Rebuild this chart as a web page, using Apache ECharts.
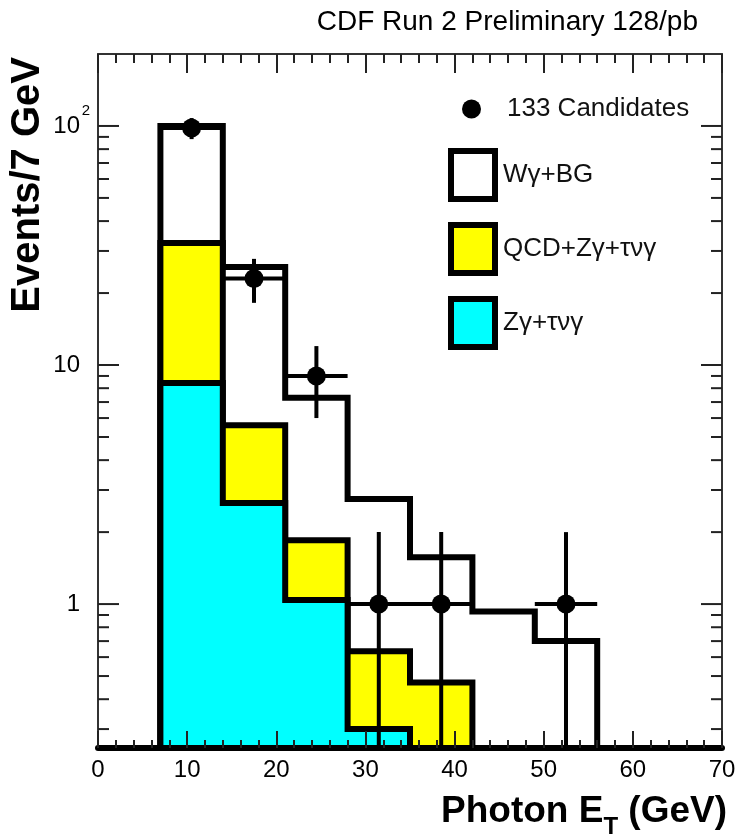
<!DOCTYPE html>
<html><head><meta charset="utf-8">
<script src="https://cdn.jsdelivr.net/npm/echarts@6/dist/echarts.min.js"></script>
<style>html,body{margin:0;padding:0;background:#fff}#c{width:736px;height:838px}</style>
</head><body><div id="c"></div>
<script>
// ---- data ----
const binEdges = [7, 14, 21, 28, 35, 42, 49, 56];
const totalBG = [100, 25.7, 7.3, 2.75, 1.57, 0.93, 0.70];      // W gamma + BG
const qcdZg = [32.4, 5.6, 1.85, 0.635, 0.47, 0, 0];            // QCD + Z gamma + tau nu gamma
const zgTau = [8.4, 2.65, 1.04, 0.30, 0, 0, 0];                // Z gamma + tau nu gamma
const dataX = [10.5, 17.5, 24.5, 31.5, 38.5, 52.5];
const dataY = [98, 23, 9, 1, 1, 1];
const dataYErr = [9.9, 4.8, 3.0, 1.0, 1.0, 1.0];
const dataXErr = [3.5, 3.5, 3.5, 3.5, 3.5, 3.5];
const yMajorTicks = [1, 10, 100];
const yMinorTicks = [0.3, 0.4, 0.5, 0.6, 0.7, 0.8, 0.9, 2, 3, 4, 5, 6, 7, 8, 9, 20, 30, 40, 50, 60, 70, 80, 90];
const yMin = 0.25, yMax = 200;
const xMin = 0, xMax = 70;

const FONT = '"Liberation Sans", Arial, Helvetica, sans-serif';

function stepData(vals) {
  const last = binEdges.length - 1;
  const pts = [[binEdges[0], yMin]];
  for (let i = 0; i < vals.length; i++) pts.push([binEdges[i], Math.max(vals[i], yMin)]);
  pts.push([binEdges[last], Math.max(vals[vals.length - 1], yMin)]);
  pts.push([binEdges[last], yMin]);
  return pts;
}

function histSeries(name, vals, fill, z) {
  return {
    type: 'line', name: name, step: 'end', data: stepData(vals),
    symbol: 'none', showSymbol: false, clip: false, z: z,
    color: fill,
    lineStyle: { color: '#000', width: 6, join: 'miter' },
    areaStyle: { color: fill, opacity: 1, origin: 'start' },
    emphasis: { disabled: true }, silent: true
  };
}

const chart = echarts.init(document.getElementById('c'), null, { renderer: 'canvas' });

const option = {
  animation: false,
  backgroundColor: '#fff',
  title: {
    text: 'CDF Run 2 Preliminary 128/pb', right: 38, top: 8, padding: 0,
    textStyle: { fontSize: 28, fontWeight: 'normal', fontFamily: FONT, color: '#000' }
  },
  grid: { left: 98, right: 14, top: 54, bottom: 90, containLabel: false, outerBoundsMode: 'none' },
  legend: [
    {
      data: [{ name: '133 Candidates', icon: 'circle', itemStyle: { color: '#000', borderWidth: 0, opacity: 1 } }],
      left: 462, top: 96, padding: 0, itemWidth: 19, itemHeight: 19, selectedMode: false,
      textStyle: { fontSize: 26, fontFamily: FONT, color: '#111', padding: [0, 0, 0, 21] }
    },
    {
      data: [
        { name: 'Wγ+BG', icon: 'rect', itemStyle: { color: '#ffffff', borderColor: '#000', borderWidth: 6, opacity: 1 } },
        { name: 'QCD+Zγ+τνγ', icon: 'rect', itemStyle: { color: '#ffff00', borderColor: '#000', borderWidth: 6, opacity: 1 } },
        { name: 'Zγ+τνγ', icon: 'rect', itemStyle: { color: '#00ffff', borderColor: '#000', borderWidth: 6, opacity: 1 } }
      ],
      orient: 'vertical', left: 448, top: 148, padding: 0,
      itemWidth: 44, itemHeight: 48, itemGap: 20, selectedMode: false,
      textStyle: { fontSize: 26, fontFamily: FONT, color: '#111', padding: [0, 0, 0, 3] }
    }
  ],
  xAxis: [
    {
      type: 'value', min: xMin, max: xMax, interval: 10, position: 'bottom', z: 10,
      axisLine: { onZero: false, lineStyle: { color: '#000', width: 6 } },
      axisTick: { inside: true, length: 17, lineStyle: { color: '#222', width: 2 } },
      minorTick: { show: true, splitNumber: 5, length: 8, lineStyle: { color: '#222', width: 2 } },
      splitLine: { show: false }, minorSplitLine: { show: false },
      axisLabel: { fontSize: 24, color: '#000', fontFamily: FONT, margin: 10 },
      name: '{a|Photon E}{s|T}{a| (GeV)}',
      nameLocation: 'end', nameGap: 5, nameMoveOverlap: false,
      nameTextStyle: {
        align: 'right', verticalAlign: 'top', padding: [44, 0, 0, 0],
        rich: {
          a: { fontSize: 37, fontWeight: 'bold', fontFamily: FONT, color: '#000', lineHeight: 40 },
          s: { fontSize: 24, fontWeight: 'bold', fontFamily: FONT, color: '#000', lineHeight: 24, padding: [30, 0, 0, 0] }
        }
      }
    },
    {
      type: 'value', min: xMin, max: xMax, interval: 10, position: 'top', z: 10,
      axisLine: { onZero: false, lineStyle: { color: '#333', width: 2 } },
      axisTick: { inside: true, length: 19, lineStyle: { color: '#222', width: 2 } },
      minorTick: { show: true, splitNumber: 5, length: 9, lineStyle: { color: '#222', width: 2 } },
      splitLine: { show: false }, minorSplitLine: { show: false },
      axisLabel: { show: false }
    }
  ],
  yAxis: [
    {
      type: 'log', logBase: 10, min: yMin, max: yMax, position: 'left', z: 10,
      axisLine: { show: true, onZero: false, lineStyle: { color: '#333', width: 2 } },
      axisTick: { show: false }, splitLine: { show: false },
      axisLabel: {
        margin: 8, color: '#000', fontSize: 24, fontFamily: FONT,
        formatter: function (v) {
          const l = Math.log10(v), e = Math.round(l);
          if (Math.abs(l - e) > 1e-6) return '';
          if (e === 0) return '{n|1}';
          if (e === 1) return '{n|10}';
          if (e === 2) return '{m|10}{s|2}';
          return '';
        },
        rich: {
          n: { fontSize: 24, fontFamily: FONT, color: '#000', padding: [0, 10, 0, 0] },
          m: { fontSize: 24, fontFamily: FONT, color: '#000' },
          s: { fontSize: 15, fontFamily: FONT, color: '#000', lineHeight: 15, width: 10, padding: [0, 0, 30, 0] }
        }
      },
      name: 'Events/7 GeV', nameLocation: 'end', nameGap: -3, nameRotate: 90, nameMoveOverlap: false,
      nameTextStyle: {
        align: 'right', verticalAlign: 'bottom', padding: [0, 0, 50, 0],
        fontSize: 40, fontWeight: 'bold', fontFamily: FONT, color: '#000'
      }
    },
    {
      type: 'log', logBase: 10, min: yMin, max: yMax, position: 'right', z: 10,
      axisLine: { show: true, onZero: false, lineStyle: { color: '#333', width: 2 } },
      axisTick: { show: false }, splitLine: { show: false }, axisLabel: { show: false }
    }
  ],
  series: [
    histSeries('Wγ+BG', totalBG, '#ffffff', 2),
    histSeries('QCD+Zγ+τνγ', qcdZg, '#ffff00', 3),
    histSeries('Zγ+τνγ', zgTau, '#00ffff', 4),
    {
      type: 'custom', name: 'errors', z: 6, silent: true,
      data: dataX.map((x, i) => [x, dataY[i], dataYErr[i], dataXErr[i]]),
      encode: { x: 0, y: 1 },
      renderItem: function (params, api) {
        const x = api.value(0), y = api.value(1), ey = api.value(2), ex = api.value(3);
        const top = api.coord([x, Math.min(y + ey, yMax)]);
        const bot = api.coord([x, Math.max(y - ey, yMin)]);
        const l = api.coord([x - ex, y]);
        const r = api.coord([x + ex, y]);
        const st = { stroke: '#000', lineWidth: 4 };
        return {
          type: 'group', children: [
            { type: 'line', shape: { x1: top[0], y1: top[1], x2: bot[0], y2: bot[1] }, style: st },
            { type: 'line', shape: { x1: l[0], y1: l[1], x2: r[0], y2: r[1] }, style: st }
          ]
        };
      }
    },
    {
      type: 'scatter', name: '133 Candidates', z: 7, silent: true,
      data: dataX.map((x, i) => [x, dataY[i]]),
      symbol: 'circle', symbolSize: 19, itemStyle: { color: '#000', opacity: 1 }
    },
    {
      type: 'custom', name: 'yticks', z: 11, silent: true, clip: false,
      data: yMajorTicks.map(v => [xMin, v, 1]).concat(yMinorTicks.map(v => [xMin, v, 0])),
      encode: { x: 0, y: 1 },
      renderItem: function (params, api) {
        const v = api.value(1), major = api.value(2);
        const p = api.coord([xMin, v]);
        const q = api.coord([xMax, v]);
        const len = major ? 21 : 11;
        const st = { stroke: '#222', lineWidth: 2 };
        return {
          type: 'group', children: [
            { type: 'line', shape: { x1: p[0], y1: p[1], x2: p[0] + len, y2: p[1] }, style: st },
            { type: 'line', shape: { x1: q[0] - len, y1: q[1], x2: q[0], y2: q[1] }, style: st }
          ]
        };
      }
    }
  ]
};
chart.setOption(option);
</script></body></html>
